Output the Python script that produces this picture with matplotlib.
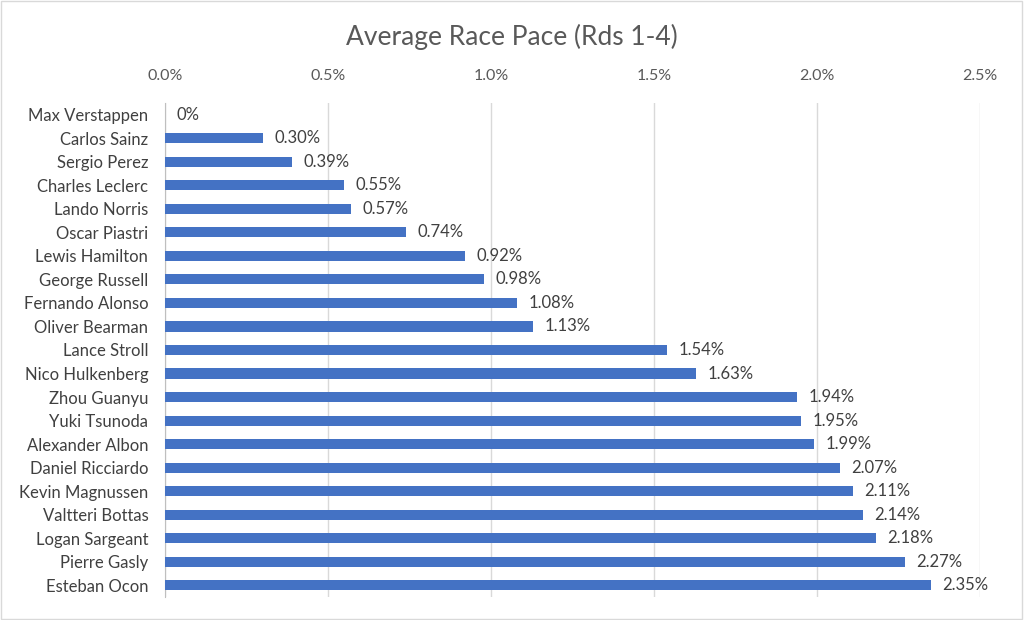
import matplotlib.pyplot as plt
from matplotlib.ticker import FuncFormatter
from matplotlib.patches import Rectangle

drivers = [
    'Max Verstappen', 'Carlos Sainz', 'Sergio Perez', 'Charles Leclerc',
    'Lando Norris', 'Oscar Piastri', 'Lewis Hamilton', 'George Russell',
    'Fernando Alonso', 'Oliver Bearman', 'Lance Stroll', 'Nico Hulkenberg',
    'Zhou Guanyu', 'Yuki Tsunoda', 'Alexander Albon', 'Daniel Ricciardo',
    'Kevin Magnussen', 'Valtteri Bottas', 'Logan Sargeant', 'Pierre Gasly',
    'Esteban Ocon',
]
gap_pct = [0.00, 0.30, 0.39, 0.55, 0.57, 0.74, 0.92, 0.98, 1.08, 1.13, 1.54,
           1.63, 1.94, 1.95, 1.99, 2.07, 2.11, 2.14, 2.18, 2.27, 2.35]

plt.rcParams['font.family'] = ['Lato', 'DejaVu Sans']
text_col = '#595959'

fig = plt.figure(figsize=(10.24, 6.2), dpi=100)
ax = fig.add_axes([0.1611, 0.037, 0.796, 0.797])

y = list(range(len(drivers)))
ax.barh(y, gap_pct, height=0.43, color='#4472C4', zorder=3)
for yi, v in zip(y, gap_pct):
    lbl = '0%' if v == 0 else f'{v:.2f}%'
    ax.text(v + 0.035, yi, lbl, va='center', ha='left', fontsize=12, color='#404040')

ax.set_ylim(len(drivers) - 0.5, -0.5)
ax.set_xlim(0, 2.5)
ax.set_xticks([0, 0.5, 1.0, 1.5, 2.0, 2.5])
ax.xaxis.set_major_formatter(FuncFormatter(lambda v, p: f'{v:.1f}%'))
ax.xaxis.tick_top()
ax.set_yticks(y)
ax.set_yticklabels(drivers)
ax.tick_params(axis='x', length=0, labelsize=11.5, labelcolor=text_col, pad=14)
ax.tick_params(axis='y', length=0, labelsize=12, labelcolor='#404040', pad=12)
ax.grid(axis='x', color='#D9D9D9', linewidth=1, zorder=0)
for s in ['top', 'right', 'bottom']:
    ax.spines[s].set_visible(False)
ax.spines['left'].set_color('#BFBFBF')

fig.text(0.5, 0.94, 'Average Race Pace (Rds 1-4)', ha='center', va='center',
         fontsize=19, color=text_col)
fig.patches.append(Rectangle((0.001, 0.002), 0.997, 0.996, transform=fig.transFigure,
                             fill=False, edgecolor='#D9D9D9', linewidth=1))

fig.savefig('out.png', dpi=100)
